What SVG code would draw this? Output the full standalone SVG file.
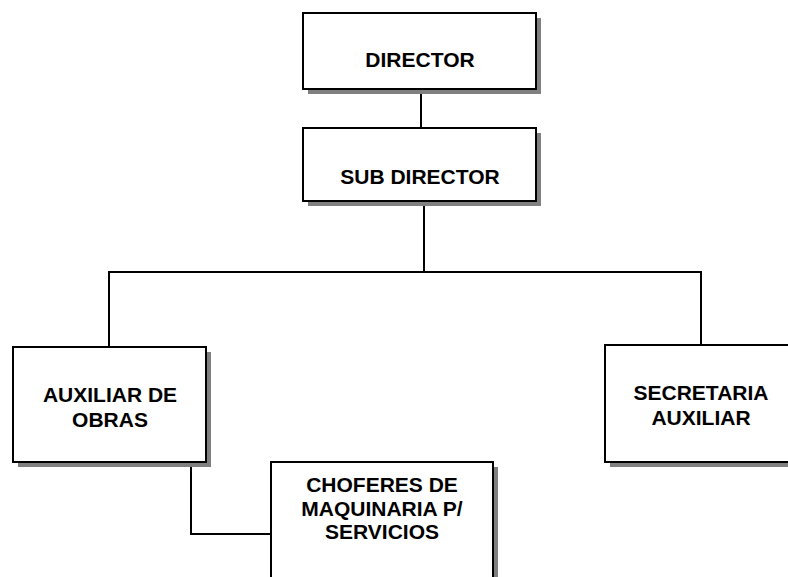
<svg xmlns="http://www.w3.org/2000/svg" width="788" height="577" viewBox="0 0 788 577">
<style>
.sh{fill:#808080;stroke:none}
.bx{fill:#fff;stroke:#000;stroke-width:2}
.t{font-family:"Liberation Sans",Arial,sans-serif;font-weight:bold;font-size:21px;fill:#000;text-anchor:middle}
.c{fill:none;stroke:#000;stroke-width:2}
</style>
<rect width="788" height="577" fill="#fff"/>
<g id="connectors">
<line class="c" x1="421" y1="89" x2="421" y2="128"/>
<polyline class="c" points="424,201 424,272"/>
<polyline class="c" points="109,347 109,272 701,272 701,345"/>
<polyline class="c" points="191,462 191,534 271,534"/>
</g>
<g id="director">
<rect class="sh" x="308" y="18" width="233" height="76"/>
<rect class="bx" x="303" y="13" width="233" height="76"/>
<text class="t" x="420" y="67">DIRECTOR</text>
</g>
<g id="subdirector">
<rect class="sh" x="308" y="133" width="233" height="73"/>
<rect class="bx" x="303" y="128" width="233" height="73"/>
<text class="t" x="420" y="184">SUB DIRECTOR</text>
</g>
<g id="auxiliar">
<rect class="sh" x="18" y="352" width="193" height="115"/>
<rect class="bx" x="13" y="347" width="193" height="115"/>
<text class="t" x="110" y="402">AUXILIAR DE</text>
<text class="t" x="110" y="427">OBRAS</text>
</g>
<g id="secretaria">
<rect class="sh" x="610" y="350" width="200" height="117"/>
<rect class="bx" x="605" y="345" width="200" height="117"/>
<text class="t" x="701" y="400">SECRETARIA</text>
<text class="t" x="701" y="425">AUXILIAR</text>
</g>
<g id="choferes">
<rect class="sh" x="276" y="467" width="222" height="130"/>
<rect class="bx" x="271" y="462" width="222" height="130"/>
<text class="t" x="382" y="492">CHOFERES DE</text>
<text class="t" x="382" y="516">MAQUINARIA P/</text>
<text class="t" x="382" y="539">SERVICIOS</text>
</g>
</svg>
